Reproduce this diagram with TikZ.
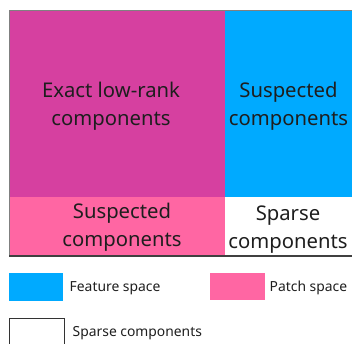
\documentclass[tikz,border=0pt]{standalone}
\usepackage{fontspec}
\setmainfont{Noto Sans}
\usetikzlibrary{positioning}
\definecolor{lowrank}{RGB}{214,64,160}
\definecolor{feature}{RGB}{0,170,255}
\definecolor{patch}{RGB}{255,102,163}
\definecolor{ink}{RGB}{30,30,30}

\begin{document}
\begin{tikzpicture}[x=0.75pt,y=-0.75pt,
    big/.style={align=center,text=ink,font=\fontsize{15.2}{21}\selectfont},
    legend/.style={anchor=west,text=ink,font=\fontsize{10.4}{12}\selectfont}]
        \useasboundingbox (0,0) rectangle (352,343);
        % main blocks
        \fill[lowrank] (9,11) rectangle (225,197);
        \fill[feature] (225,11) rectangle (352,197);
        \fill[patch] (9,197) rectangle (225,256);
        \draw[gray] (352,10) -- (9,10) -- (9,256);
        \draw[black!75,line width=1pt] (9,256) -- (352,256);

        \node[big] (exact) at (111,106) {Exact low-rank\\components};
        \node[big] (suspF) at (288.5,106) {Suspected\\components};
        \node[big] (suspP) at (122,227) {Suspected\\components};
        \node[big] (sparse) at (288,230) {Sparse\\components};

        % legend
        \fill[feature] (9,273) rectangle (63,301);
        \node[legend] (featL) at (65,288) {Feature space};
        \fill[patch] (210,273) rectangle (265,300);
        \node[legend] (patchL) at (265,288) {Patch space};
        \draw[black!80] (9,345) -- (9,318) -- (64,318) -- (64,345);
        \node[legend] (sparseL) at (68,333) {Sparse components};
    \end{tikzpicture}
\end{document}
